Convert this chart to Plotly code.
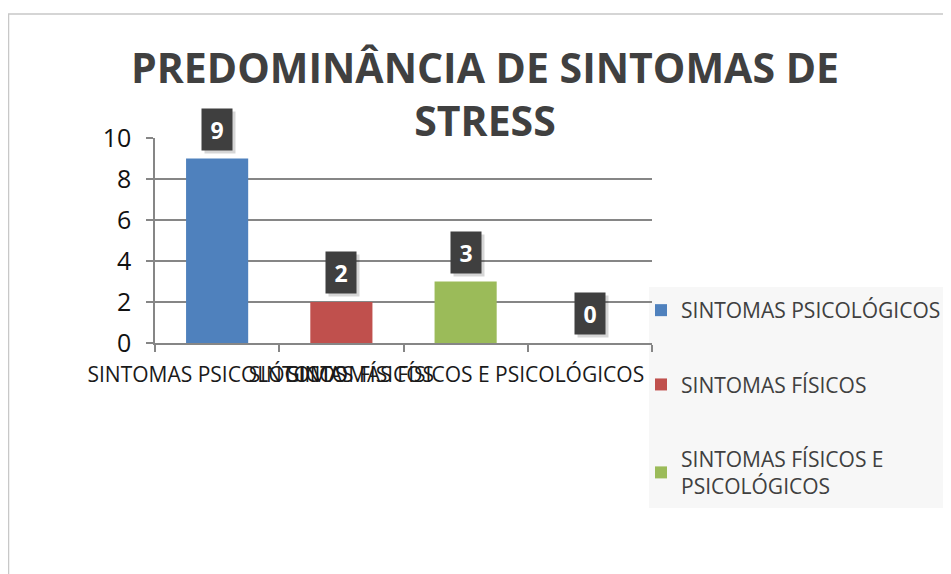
import plotly.graph_objects as go

categories = ["SINTOMAS PSICOLÓGICOS", "SINTOMAS FÍSICOS", "SINTOMAS FÍSICOS E PSICOLÓGICOS", " "]
values = [9, 2, 3, 0]
legend_names = ["SINTOMAS PSICOLÓGICOS", "SINTOMAS FÍSICOS", "SINTOMAS FÍSICOS E<br>PSICOLÓGICOS", ""]
colors = ["#4F81BD", "#C0504D", "#9BBB59", "#8064A2"]
y_ticks = [0, 2, 4, 6, 8, 10]
title_text = "PREDOMINÂNCIA DE SINTOMAS DE<br>STRESS"

# page body adds an 8px offset; work in figure pixels (screen - 8)
OFF = 8
W, H = 951 - OFF, 574 - OFF
L, R, T, B = 155 - OFF, 652 - OFF, 138 - OFF, 343 - OFF

fig = go.Figure()
for i, (c, v) in enumerate(zip(categories, values)):
    fig.add_trace(go.Bar(
        x=[c], y=[v], name=legend_names[i], marker=dict(color=colors[i], line=dict(width=0)),
        width=0.5, showlegend=(i < 3), legendgroup=f"g{i}",
        hoverinfo="x+y",
    ))

annotations = []
for c, v in zip(categories, values):
    # shadow
    annotations.append(dict(
        x=c, y=v, xref="x", yref="y", text=f"<b>{v}</b>", showarrow=False,
        yanchor="bottom", yshift=5, xshift=3,
        font=dict(family="Open Sans", size=23, color="rgba(0,0,0,0)"),
        bgcolor="rgba(0,0,0,0.16)", width=26, height=37, borderpad=2,
    ))
    annotations.append(dict(
        x=c, y=v, xref="x", yref="y", text=f"<b>{v}</b>", showarrow=False,
        yanchor="bottom", yshift=8,
        font=dict(family="Open Sans", size=23, color="white"),
        bgcolor="#3F3F3F", width=26, height=37, borderpad=2,
    ))

pw, ph = R - L, B - T
def px2x(px):
    return (px - OFF - L) / pw
def py2y(py):
    return (B - (py - OFF)) / ph

shapes = [
    # outer chart border (extends beyond the visible frame)
    dict(type="rect", xref="paper", yref="paper",
         x0=px2x(8.5), x1=px2x(1200), y0=py2y(800), y1=py2y(14),
         line=dict(color="#C8C8C8", width=1.5), fillcolor="rgba(0,0,0,0)", layer="below"),
    # legend background
    dict(type="rect", xref="paper", yref="paper",
         x0=px2x(649), x1=px2x(960), y0=py2y(508), y1=py2y(287),
         line=dict(width=0), fillcolor="#F7F7F7", layer="below"),
]

fig.update_layout(
    width=W, height=H,
    margin=dict(l=L, r=W - R, t=T, b=H - B, pad=0, autoexpand=False),
    paper_bgcolor="white", plot_bgcolor="white",
    barmode="overlay",
    title=dict(text="<b>" + title_text + "</b>", x=(485 - OFF) / W, xanchor="center",
               y=1 - 75 / H, yanchor="top", yref="container",
               font=dict(family="Open Sans", size=41, color="#404040")),
    font=dict(family="Open Sans", color="#222222"),
    xaxis=dict(
        type="category", categoryorder="array", categoryarray=categories,
        showgrid=False, showline=True, linecolor="#868686", linewidth=1.5,
        ticks="outside", tickson="boundaries", ticklen=7, tickcolor="#868686", tickwidth=1.5,
        tickfont=dict(family="Open Sans", size=21, color="#1A1A1A"),
        ticklabelstandoff=12, automargin=False,
        tickangle=0, range=[-0.5, 3.5], fixedrange=True,
    ),
    yaxis=dict(
        range=[0, 10], tickvals=y_ticks, showgrid=True, gridcolor="#868686", gridwidth=1.5,
        showline=True, linecolor="#868686", linewidth=1.5, zeroline=False,
        ticks="outside", ticklen=7, tickcolor="#868686", tickwidth=1.5,
        ticklabelstandoff=10, automargin=False,
        tickfont=dict(family="Open Sans", size=25, color="#111111"), fixedrange=True,
    ),
    legend=dict(
        x=px2x(641), y=py2y(290), xref="paper", yref="paper", xanchor="left", yanchor="top",
        bgcolor="rgba(0,0,0,0)", font=dict(family="Open Sans", size=21, color="#404040"),
        tracegroupgap=44, itemwidth=30, itemclick=False, itemdoubleclick=False,
        maxheight=1000,
    ),
    annotations=annotations,
    shapes=shapes,
    bargap=0.5,
)

fig.write_html("out.html")
